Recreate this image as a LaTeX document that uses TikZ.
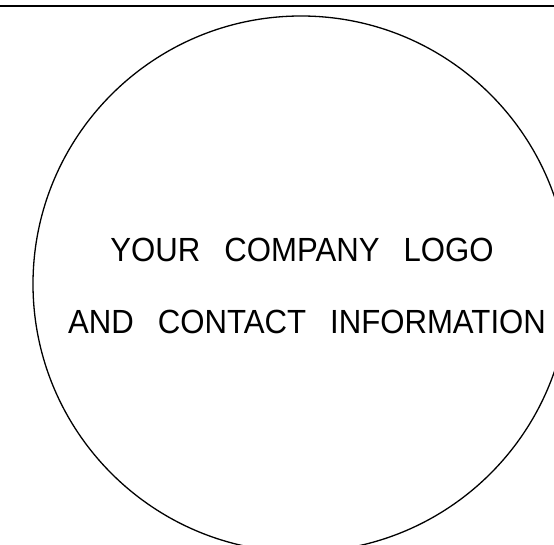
\documentclass[tikz,border=0pt]{standalone}
\usepackage{fontspec}
\newfontfamily\logofont[FakeStretch=0.93]{Liberation Sans}
\newcommand\wgap{\hspace{24pt}}
\begin{document}
\begin{tikzpicture}[x=1pt,y=-1pt,
  rule/.style={line width=1.6pt},
  seal/.style={circle,draw,line width=1.3pt,inner sep=0pt,minimum size=536pt},
  logotext/.style={anchor=base,inner sep=0pt,font=\logofont\fontsize{33.5pt}{36pt}\selectfont}]
\useasboundingbox (0,0) rectangle (554,545);
\clip (0,0) rectangle (554,545);
\fill[white] (0,0) rectangle (554,545);
\coordinate (topL) at (-2,6);
\coordinate (topR) at (556,6);
\draw[rule] (topL) -- (topR);
\node[seal] (ring) at (301,284) {};
\node[logotext] (line1) at (302,262) {YOUR\wgap COMPANY\wgap LOGO};
\node[logotext] (line2) at (307,333) {AND\wgap CONTACT\wgap INFORMATION};
\end{tikzpicture}
\end{document}
